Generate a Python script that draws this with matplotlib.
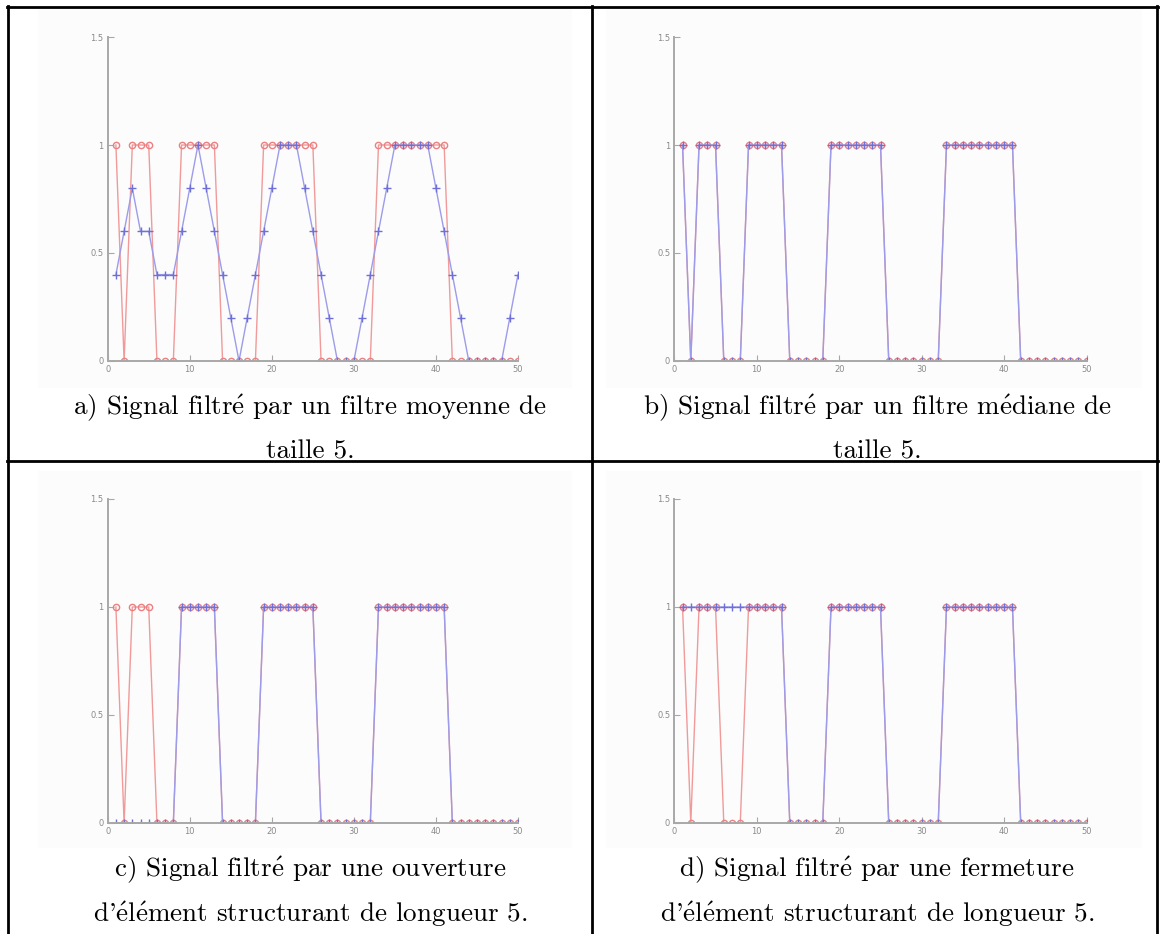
import numpy as np
import matplotlib.pyplot as plt
from matplotlib.lines import Line2D
from matplotlib.patches import Rectangle

W, H = 1161, 934

# sample index and the signals
x = np.arange(1, 51)
original = [1, 0, 1, 1, 1, 0, 0, 0, 1, 1, 1, 1, 1, 0, 0, 0, 0, 0, 1, 1,
            1, 1, 1, 1, 1, 0, 0, 0, 0, 0, 0, 0, 1, 1, 1, 1, 1, 1, 1, 1,
            1, 0, 0, 0, 0, 0, 0, 0, 0, 0]
moyenne = [0.4, 0.6, 0.8, 0.6, 0.6, 0.4, 0.4, 0.4, 0.6, 0.8,
           1.0, 0.8, 0.6, 0.4, 0.2, 0.0, 0.2, 0.4, 0.6, 0.8,
           1.0, 1.0, 1.0, 0.8, 0.6, 0.4, 0.2, 0.0, 0.0, 0.0,
           0.2, 0.4, 0.6, 0.8, 1.0, 1.0, 1.0, 1.0, 1.0, 0.8,
           0.6, 0.4, 0.2, 0.0, 0.0, 0.0, 0.0, 0.0, 0.2, 0.4]
mediane = [1, 0, 1, 1, 1, 0, 0, 0, 1, 1, 1, 1, 1, 0, 0, 0, 0, 0, 1, 1,
           1, 1, 1, 1, 1, 0, 0, 0, 0, 0, 0, 0, 1, 1, 1, 1, 1, 1, 1, 1,
           1, 0, 0, 0, 0, 0, 0, 0, 0, 0]
ouverture = [0, 0, 0, 0, 0, 0, 0, 0, 1, 1, 1, 1, 1, 0, 0, 0, 0, 0, 1, 1,
             1, 1, 1, 1, 1, 0, 0, 0, 0, 0, 0, 0, 1, 1, 1, 1, 1, 1, 1, 1,
             1, 0, 0, 0, 0, 0, 0, 0, 0, 0]
fermeture = [1, 1, 1, 1, 1, 1, 1, 1, 1, 1, 1, 1, 1, 0, 0, 0, 0, 0, 1, 1,
             1, 1, 1, 1, 1, 0, 0, 0, 0, 0, 0, 0, 1, 1, 1, 1, 1, 1, 1, 1,
             1, 0, 0, 0, 0, 0, 0, 0, 0, 0]

captions = [
    ["a) Signal filtré par un filtre moyenne de", "taille 5."],
    ["b) Signal filtré par un filtre médiane de", "taille 5."],
    ["c) Signal filtré par une ouverture", "d'élément structurant de longueur 5."],
    ["d) Signal filtré par une fermeture", "d'élément structurant de longueur 5."],
]
filtered = [moyenne, mediane, ouverture, fermeture]

xticks = [0, 10, 20, 30, 40, 50]
yticks = [0, 0.5, 1, 1.5]
yticklabels = ["0", "0.5", "1", "1.5"]

RED = "#f09a9a"
RED_MK = "#ec8080"
BLUE = "#9c9cea"
BLUE_MK = "#6f6fd8"
AXIS = "#a8a8a8"


def fig_box(x0, y0, x1, y1):
    """pixel box (top-left origin) -> figure fraction rect"""
    return [x0 / W, 1 - y1 / H, (x1 - x0) / W, (y1 - y0) / H]


def hline(fig, y, x0, x1, lw=2.0):
    fig.add_artist(Line2D([x0 / W, x1 / W], [1 - y / H, 1 - y / H],
                          transform=fig.transFigure, color="black", lw=lw))


def vline(fig, x, y0, y1, lw=2.0):
    fig.add_artist(Line2D([x / W, x / W], [1 - y0 / H, 1 - y1 / H],
                          transform=fig.transFigure, color="black", lw=lw))


def tex_accents(s):
    # cmr10 has no precomposed é, so build it with a mathtext accent
    return s.replace("é", r"$\acute{\mathrm{e}}$")


plt.rcParams["font.family"] = ["cmr10", "DejaVu Serif"]
plt.rcParams["mathtext.fontset"] = "cm"
plt.rcParams["axes.unicode_minus"] = False

fig = plt.figure(figsize=(W / 100, H / 100), dpi=100)
fig.patch.set_facecolor("white")

# column / row geometry in pixels
cols = [(107.7, 518.0), (674.3, 1086.7)]
rows = [(37.0, 361.0), (499.0, 823.0)]
img_cols = [(38, 572), (606, 1142)]
img_rows = [(9, 388), (471, 848)]
cap_x = [310, 877]
cap_y = [(408, 452), (870, 914)]

for i in range(4):
    r, c = divmod(i, 2)

    # light grey background of the pasted plot picture
    ix0, ix1 = img_cols[c]
    iy0, iy1 = img_rows[r]
    fig.add_artist(Rectangle((ix0 / W, 1 - iy1 / H), (ix1 - ix0) / W,
                             (iy1 - iy0) / H, transform=fig.transFigure,
                             facecolor="#fcfcfc", edgecolor="none", zorder=0))

    ax = fig.add_axes(fig_box(cols[c][0], rows[r][0], cols[c][1], rows[r][1]))
    ax.set_facecolor("none")
    ax.plot(x, original, "-o", color=RED, mec=RED_MK, mfc="none",
            ms=4.5, mew=1.0, lw=1.0)
    ax.plot(x, filtered[i], "-+", color=BLUE, mec=BLUE_MK,
            ms=5.5, mew=1.0, lw=1.0)

    ax.set_xlim(0, 50)
    ax.set_ylim(0, 1.5)
    ax.set_xticks(xticks)
    ax.set_yticks(yticks)
    ax.set_yticklabels(yticklabels)
    for side in ["top", "right"]:
        ax.spines[side].set_visible(False)
    for side in ["left", "bottom"]:
        ax.spines[side].set_color(AXIS)
        ax.spines[side].set_linewidth(1.4)
    ax.tick_params(direction="in", length=4, width=0.8, colors=AXIS,
                   labelsize=6, labelcolor="#8a8a8a", pad=3)
    for lab in ax.get_xticklabels() + ax.get_yticklabels():
        lab.set_family("DejaVu Sans")

    for k, line in enumerate(captions[i]):
        fig.text(cap_x[c] / W, 1 - cap_y[r][k] / H, tex_accents(line),
                 ha="center", va="center", fontsize=19.5, color="black")

# table rules
hline(fig, 7, 7, 1158)
hline(fig, 461, 7, 1158)
vline(fig, 8, 6, H)
vline(fig, 592, 6, H)
vline(fig, 1157, 6, H)

fig.savefig("out.png", dpi=100)
